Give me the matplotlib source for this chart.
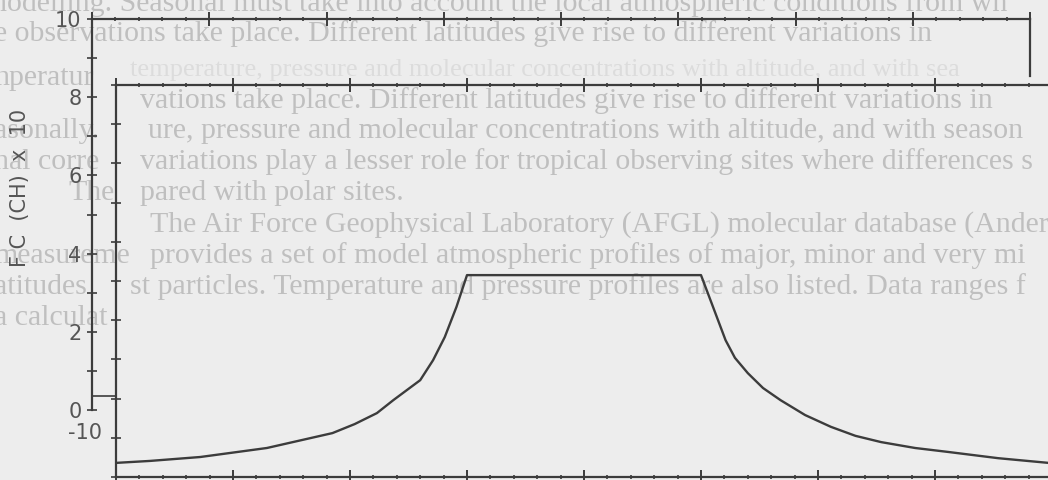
import matplotlib
matplotlib.use("Agg")
import matplotlib.pyplot as plt
import numpy as np

# curve values (inner axes: x in major-tick units, y in inner tick units)
x_vals = [0.00, 0.29, 0.72, 1.29, 1.85, 2.04, 2.23, 2.37, 2.60, 2.71, 2.81, 2.91, 3.00,
          5.00, 5.09, 5.21, 5.29, 5.40, 5.53, 5.68, 5.89, 6.11, 6.32, 6.54, 6.83,
          7.11, 7.54, 7.97]
y_vals = [0.36, 0.41, 0.51, 0.74, 1.12, 1.35, 1.63, 1.96, 2.47, 2.98, 3.57, 4.34, 5.15,
          5.15, 4.44, 3.49, 3.04, 2.65, 2.27, 1.96, 1.58, 1.28, 1.05, 0.89, 0.74,
          0.64, 0.48, 0.36]

outer_yticks = [0, 2, 4, 6, 8, 10]
outer_ylabels = ["0", "2", "4", "6", "8", "10"]
stub_x = [0.0, 0.2]
stub_y = [0.36, 0.36]

# page text showing through the scan (x px, y px, text)
page_lines = [
    (-8, 4, "nodelling. Seasonal must take into account the local atmospheric conditions from wh"),
    (-6, 34, "e observations take place. Different latitudes give rise to different variations in"),
    (-6, 78, "nperatur"),
    (140, 101, "vations take place. Different latitudes give rise to different variations in"),
    (-6, 131, "asonally."),
    (148, 131, "ure, pressure and molecular concentrations with altitude, and with season"),
    (-6, 162, "nal corre"),
    (140, 162, "variations play a lesser role for tropical observing sites where differences s"),
    (68, 193, "The"),
    (140, 193, "pared with polar sites."),
    (150, 225, "The Air Force Geophysical Laboratory (AFGL) molecular database (Anderso"),
    (-6, 256, "measureme"),
    (150, 256, "provides a set of model atmospheric profiles of major, minor and very mi"),
    (-6, 287, "atitudes"),
    (130, 287, "st particles. Temperature and pressure profiles are also listed. Data ranges f"),
    (-6, 318, "a calculat"),
]

bg = "#ededed"
ink = "#3c3c3c"

fig = plt.figure(figsize=(10.48, 4.8), dpi=100, facecolor=bg)

fig.text(130 / 1048, 1 - 70 / 480,
         "temperature, pressure and molecular concentrations with altitude, and with sea",
         fontsize=19, family="Liberation Serif", color="#dcdcdc", va="center", ha="left", zorder=0)
for x, y, s in page_lines:
    fig.text(x / 1048, 1 - y / 480, s, fontsize=21.5, family="Liberation Serif",
             color="#bfbfbf", va="center", ha="left", zorder=0)

# outer (back) frame
ax_out = fig.add_axes([92 / 1048, 1 - 410 / 480, 938 / 1048, 391 / 480], zorder=1)
ax_out.set_facecolor("none")
ax_out.set_xlim(0, 8)
ax_out.set_ylim(0, 10)
ax_out.spines["bottom"].set_visible(False)
ax_out.spines["right"].set_bounds(8.55, 10)
for s in ["left", "top", "right"]:
    ax_out.spines[s].set_color(ink)
    ax_out.spines[s].set_linewidth(1.6)
ax_out.set_yticks(outer_yticks)
ax_out.set_yticklabels(outer_ylabels)
ax_out.set_yticks(np.arange(1, 10, 2), minor=True)
ax_out.set_xticks(np.arange(0, 9, 1))
ax_out.set_xticks(np.arange(0, 8.01, 0.2), minor=True)
ax_out.tick_params(axis="y", which="both", direction="inout", length=7, width=1.2,
                   color=ink, labelsize=15, labelcolor="#555555", pad=4, right=False)
ax_out.tick_params(axis="x", which="major", direction="inout", length=10, width=1.4,
                   color=ink, top=True, bottom=False, labeltop=False, labelbottom=False)
ax_out.tick_params(axis="x", which="minor", direction="inout", length=3, width=1.2,
                   color=ink, top=True, bottom=False)
ax_out.plot(stub_x, stub_y, color=ink, lw=1.2, clip_on=False)
ax_out.set_ylabel("F C  (CH)  x  10", fontsize=15, color="#555555")
ax_out.yaxis.set_label_coords(-0.066, 0.568)

# inner (front) frame with the curve
ax = fig.add_axes([116 / 1048, 3 / 480, 936 / 1048, 392 / 480], zorder=2)
ax.set_facecolor("none")
ax.set_xlim(0, 8)
ax.set_ylim(0, 10)
ax.spines["right"].set_visible(False)
for s in ["left", "top", "bottom"]:
    ax.spines[s].set_color(ink)
    ax.spines[s].set_linewidth(1.6)
ax.plot(x_vals, y_vals, color=ink, lw=1.7)
ax.set_yticks(np.arange(0, 11, 1))
ax.set_yticklabels([])
ax.set_xticks(np.arange(0, 9, 1))
ax.set_xticks(np.arange(0, 8.01, 0.2), minor=True)
ax.set_xticklabels([])
ax.tick_params(axis="y", direction="inout", length=7, width=1.2, color=ink)
ax.tick_params(axis="x", which="major", direction="inout", length=10, width=1.4,
               color=ink, top=True, bottom=True)
ax.tick_params(axis="x", which="minor", direction="inout", length=3, width=1.2,
               color=ink, top=True, bottom=True)

fig.text(68 / 1048, 1 - 433 / 480, "-10", fontsize=15, color="#555555",
         va="center", ha="left", zorder=3)

fig.savefig("out.png", dpi=100, facecolor=bg)
